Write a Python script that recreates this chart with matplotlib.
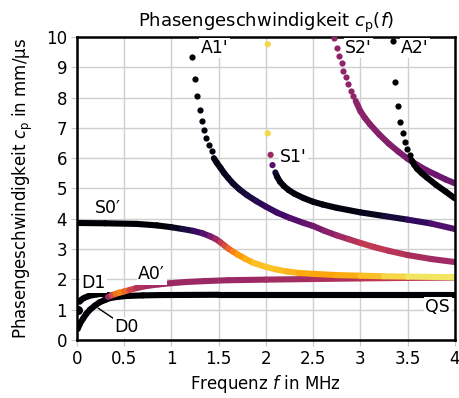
import numpy as np
import matplotlib
matplotlib.use('Agg')
import matplotlib.pyplot as plt
from matplotlib.collections import LineCollection

plt.rcParams['font.family'] = 'DejaVu Sans'
plt.rcParams['mathtext.fontset'] = 'dejavusans'

### read-off values: frequency f in MHz, phase velocity cp in mm/us, colour value c (inferno, 0..1)

# D0 / QS (black)
qs_f = [0.01, 0.03, 0.07, 0.10, 0.14, 0.19, 0.24, 0.30, 0.35, 0.43, 0.53, 0.70, 0.88, 1.5, 4.0]
qs_cp = [0.36, 0.52, 0.72, 0.86, 1.0, 1.13, 1.24, 1.32, 1.38, 1.42, 1.45, 1.47, 1.48, 1.49, 1.49]
# D1 (black)
d1_f = [0.03, 0.05, 0.08, 0.12, 0.17, 0.22, 0.28, 0.35]
d1_cp = [1.26, 1.33, 1.39, 1.44, 1.48, 1.50, 1.50, 1.47]
d1_dot_f = [0.01]
d1_dot_cp = [0.99]

# A0'
a0_f = [0.33, 0.37, 0.41, 0.45, 0.50, 0.56, 0.63, 0.74, 0.86, 0.99, 1.15, 1.34, 1.6, 2.0, 2.5, 3.0, 3.3, 4.0]
a0_cp = [1.42, 1.47, 1.52, 1.56, 1.60, 1.65, 1.71, 1.78, 1.83, 1.87, 1.91, 1.94, 1.97, 1.99, 2.01, 2.03, 2.04, 2.06]
a0_c = [0.32, 0.5, 0.65, 0.73, 0.72, 0.6, 0.5, 0.45, 0.43, 0.43, 0.42, 0.42, 0.42, 0.43, 0.45, 0.48, 0.52, 0.5]

# S0'
s0_f = [0.0, 0.3, 0.63, 0.85, 1.0, 1.12, 1.23, 1.33, 1.41, 1.47, 1.52, 1.56, 1.6, 1.65, 1.7,
        1.78, 1.87, 2.0, 2.1, 2.22, 2.35, 2.5, 2.75, 3.0, 3.25, 3.5, 4.0]
s0_cp = [3.86, 3.85, 3.83, 3.78, 3.72, 3.66, 3.6, 3.52, 3.42, 3.33, 3.22, 3.12, 3.02, 2.92, 2.82,
         2.68, 2.54, 2.41, 2.33, 2.26, 2.21, 2.18, 2.14, 2.12, 2.10, 2.09, 2.07]
s0_c = [0.0, 0.0, 0.0, 0.0, 0.03, 0.08, 0.14, 0.22, 0.3, 0.38, 0.47, 0.55, 0.62, 0.7, 0.76,
        0.8, 0.84, 0.86, 0.86, 0.84, 0.82, 0.8, 0.8, 0.83, 0.88, 0.92, 0.94]

# A1'
a1_dot_f = [1.22, 1.25, 1.27, 1.30, 1.32, 1.35, 1.37, 1.40, 1.43]
a1_dot_cp = [9.35, 8.61, 8.05, 7.59, 7.24, 6.94, 6.66, 6.43, 6.24]
a1_f = [1.45, 1.48, 1.52, 1.56, 1.6, 1.65, 1.72, 1.8, 1.9, 2.0, 2.12, 2.25, 2.4, 2.5, 2.62, 2.75,
        2.88, 3.0, 3.15, 3.3, 3.5, 3.75, 4.0]
a1_cp = [6.0, 5.85, 5.68, 5.5, 5.35, 5.17, 4.97, 4.78, 4.58, 4.40, 4.2, 4.03, 3.86, 3.76, 3.6, 3.45,
         3.32, 3.2, 3.06, 2.94, 2.8, 2.67, 2.57]
a1_c = [0.02, 0.03, 0.04, 0.05, 0.05, 0.07, 0.08, 0.1, 0.13, 0.16, 0.19, 0.22, 0.27, 0.3, 0.35, 0.4,
        0.46, 0.5, 0.52, 0.5, 0.47, 0.44, 0.42]

# S1'
s1_dot_f = [2.02, 2.02, 2.05, 2.07]
s1_dot_cp = [9.76, 6.82, 6.11, 5.77]
s1_dot_c = [0.9, 0.9, 0.42, 0.25]
s1_f = [2.10, 2.12, 2.15, 2.19, 2.24, 2.3, 2.4, 2.5, 2.6, 2.75, 3.0, 3.25, 3.5, 3.75, 4.0]
s1_cp = [5.53, 5.38, 5.22, 5.08, 4.95, 4.83, 4.68, 4.56, 4.47, 4.36, 4.21, 4.09, 3.97, 3.84, 3.66]
s1_c = [0.1, 0.05, 0.03, 0.02, 0.02, 0.02, 0.02, 0.02, 0.02, 0.02, 0.03, 0.07, 0.13, 0.2, 0.28]

# S2'
s2_dot_f = [2.72, 2.75, 2.77, 2.80, 2.82, 2.85, 2.87, 2.90, 2.92]
s2_dot_cp = [9.96, 9.65, 9.37, 9.13, 8.89, 8.67, 8.44, 8.23, 8.05]
s2_f = [2.95, 3.0, 3.05, 3.1, 3.2, 3.3, 3.4, 3.5, 3.6, 3.7, 3.8, 3.9, 4.0]
s2_cp = [7.89, 7.55, 7.32, 7.12, 6.78, 6.48, 6.22, 5.98, 5.78, 5.6, 5.45, 5.3, 5.17]
s2_c = [0.39, 0.38, 0.38, 0.37, 0.37, 0.36, 0.35, 0.34, 0.33, 0.32, 0.31, 0.3, 0.3]

# A2' (black)
a2_dot_f = [3.35, 3.37, 3.40, 3.42, 3.45, 3.47, 3.49, 3.52]
a2_dot_cp = [9.87, 8.52, 7.72, 7.2, 6.82, 6.54, 6.30, 6.1]
a2_f = [3.54, 3.57, 3.6, 3.65, 3.7, 3.8, 3.9, 4.0]
a2_cp = [5.94, 5.78, 5.65, 5.5, 5.37, 5.12, 4.9, 4.67]

cmap = plt.get_cmap('inferno')
lw = 4.4
dot_s = 20


def colored_line(ax, f, cp, c, lw=lw):
    pts = np.column_stack([f, cp])
    segs = np.stack([pts[:-1], pts[1:]], axis=1)
    cc = 0.5 * (np.array(c[:-1]) + np.array(c[1:]))
    lc = LineCollection(segs, colors=cmap(cc), linewidths=lw, capstyle='round', joinstyle='round')
    ax.add_collection(lc)


fig = plt.figure(figsize=(4.6, 3.98), dpi=100)
ax = fig.add_axes([0.167, 0.146, 0.822, 0.761])

ax.set_xlim(0, 4)
ax.set_ylim(0, 10)
ax.set_xticks(np.arange(0, 4.01, 0.5))
ax.set_xticklabels(['0', '0.5', '1', '1.5', '2', '2.5', '3', '3.5', '4'])
ax.set_yticks(np.arange(0, 10.1, 1))
ax.grid(color='#cfcfcf', linewidth=1.0)
ax.set_axisbelow(True)
ax.tick_params(direction='out', length=4, color='#c8c8c8', labelsize=12, pad=3)
for sp in ax.spines.values():
    sp.set_linewidth(1.8)

# black low modes
colored_line(ax, qs_f, qs_cp, [0.0] * len(qs_f))
colored_line(ax, d1_f, d1_cp, [0.0] * len(d1_f))
ax.scatter(d1_dot_f, d1_dot_cp, s=dot_s * 1.5, color=cmap(0.0), zorder=3)

colored_line(ax, a0_f, a0_cp, a0_c)
colored_line(ax, s0_f, s0_cp, s0_c)

ax.scatter(a1_dot_f, a1_dot_cp, s=dot_s, color=cmap(0.02), zorder=3, linewidths=0)
colored_line(ax, a1_f, a1_cp, a1_c)

ax.scatter(s1_dot_f, s1_dot_cp, s=dot_s, c=cmap(np.array(s1_dot_c)), zorder=3, linewidths=0)
colored_line(ax, s1_f, s1_cp, s1_c)

ax.scatter(s2_dot_f, s2_dot_cp, s=dot_s, color=cmap(0.39), zorder=3, linewidths=0)
colored_line(ax, s2_f, s2_cp, s2_c)

ax.scatter(a2_dot_f, a2_dot_cp, s=dot_s, color=cmap(0.0), zorder=3, linewidths=0)
colored_line(ax, a2_f, a2_cp, [0.0] * len(a2_f))

# mode labels
box = dict(facecolor='white', edgecolor='none', pad=1.0)
fs = 12.5
ax.text(1.31, 9.64, "A1'", fontsize=fs, va='center', ha='left', bbox=box, zorder=4)
ax.text(2.84, 9.64, "S2'", fontsize=fs, va='center', ha='left', bbox=box, zorder=4)
ax.text(3.43, 9.64, "A2'", fontsize=fs, va='center', ha='left', bbox=box, zorder=4)
ax.text(2.15, 6.04, "S1'", fontsize=fs, va='center', ha='left', bbox=box, zorder=4)
ax.text(0.19, 4.34, "S0\u2032", fontsize=fs, va='center', ha='left', bbox=box, zorder=4)
ax.text(0.65, 2.17, "A0\u2032", fontsize=fs, va='center', ha='left', bbox=box, zorder=4)
ax.text(0.05, 1.88, "D1", fontsize=fs, va='center', ha='left', bbox=box, zorder=4)
ax.text(3.95, 1.07, "QS", fontsize=fs, va='center', ha='right', bbox=box, zorder=4)
ax.annotate("D0", xy=(0.225, 1.05), xytext=(0.40, 0.41), fontsize=fs, va='center', ha='left',
            bbox=box, zorder=4,
            arrowprops=dict(arrowstyle='-', color='black', lw=1.0, shrinkA=0, shrinkB=0))

ax.set_title('Phasengeschwindigkeit $c_\\mathrm{p}(f)$', fontsize=13, pad=7)
ax.set_xlabel('Frequenz $f$ in MHz', fontsize=12, labelpad=4)
ax.set_ylabel('Phasengeschwindigkeit $c_\\mathrm{p}$ in mm/\u00b5s', fontsize=12, labelpad=8)

fig.savefig('out.png', dpi=100)
